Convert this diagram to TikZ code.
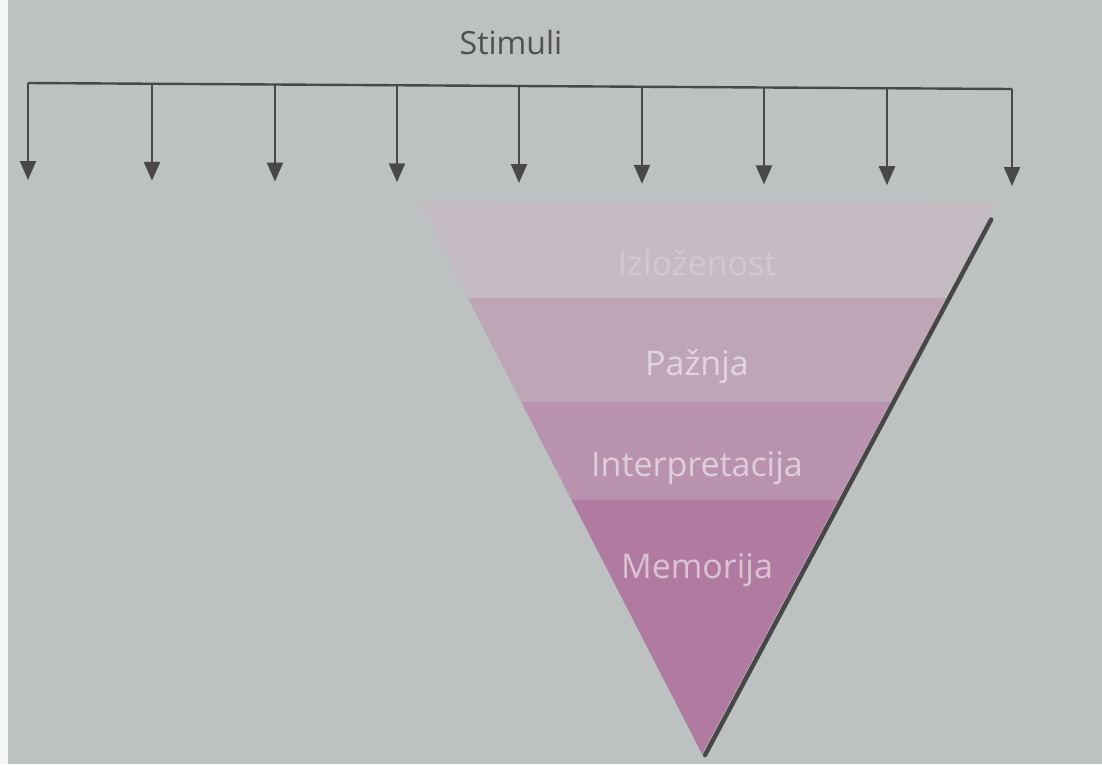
\documentclass[tikz,border=0pt]{standalone}
\usepackage{fontspec}
\setmainfont{Open Sans}
\usetikzlibrary{arrows.meta,calc}
\definecolor{bg}{RGB}{189,193,194}
\definecolor{bandA}{RGB}{197,187,195}
\definecolor{bandB}{RGB}{191,166,183}
\definecolor{bandC}{RGB}{185,146,175}
\definecolor{bandD}{RGB}{177,123,161}
\definecolor{linegray}{RGB}{72,72,72}
\definecolor{txtgray}{RGB}{80,80,80}
\tikzset{
  stimarrow/.style={draw=linegray, line width=2.4pt, -{Triangle[length=19pt,width=16pt]}},
  busline/.style={draw=linegray, line width=2.4pt},
  bandlabel/.style={text=white, text opacity=0.55, font=\fontsize{34}{40}\selectfont},
  toplabel/.style={text=white, text opacity=0.22, font=\fontsize{34}{40}\selectfont},
}
\begin{document}
\begin{tikzpicture}[x=1pt,y=-1pt]
\useasboundingbox (0,0) rectangle (1102,764);
\fill[bg] (0,0) rectangle (1102,764);
\fill[white!85!bg] (0,0) rectangle (8,764);
% title
\node[text=txtgray, font=\fontsize{32}{38}\selectfont] (stim) at (511,42) {Stimuli};
% bus
\coordinate (bl) at (28,83);
\coordinate (br) at (1012,89);
\draw[busline] (bl) -- (br);
\foreach \i/\x in {1/28,2/152,3/275,4/397,5/519,6/642,7/764,8/887,9/1012}{
  \coordinate (t\i) at ($(bl)!{(\x-28)/984}!(br)$);
  \coordinate (h\i) at ($(t\i)+(0,97)$);
  \draw[stimarrow] (t\i) -- (h\i);
}
% triangle
\coordinate (tl) at (418,201);
\coordinate (tr) at (997,203);
\coordinate (bt) at (702,754);
\draw[line width=4.5pt, draw=black!72, line cap=round] ($(tr)!0.03!(bt)+(3,0)$) -- ($(bt)+(3,1)$);
\begin{scope}
  \clip (tl) -- (tr) -- (bt) -- cycle;
  \fill[bandA] (400,195) rectangle (1000,298);
  \fill[bandB] (400,298) rectangle (1000,402);
  \fill[bandC] (400,402) rectangle (1000,500);
  \fill[bandD] (400,500) rectangle (1000,760);
\end{scope}
\node[toplabel] (l1) at (697,263) {Izloženost};
\node[bandlabel] (l2) at (697,367) {Pažnja};
\node[bandlabel] (l3) at (697,468) {Interpretacija};
\node[bandlabel] (l4) at (697,570) {Memorija};
\end{tikzpicture}
\end{document}
